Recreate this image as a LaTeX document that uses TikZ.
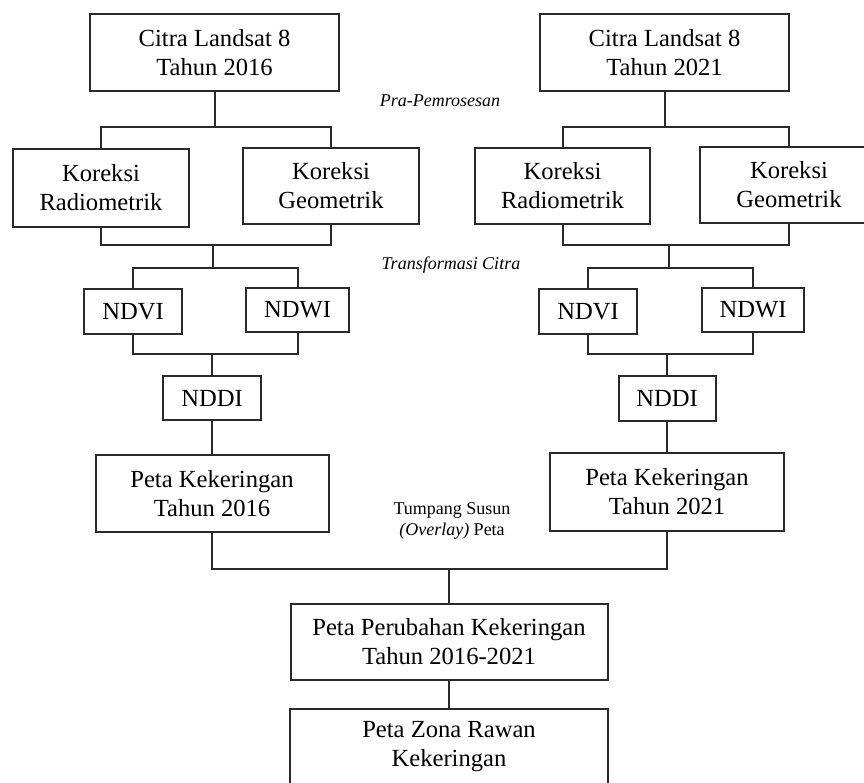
\documentclass[tikz,border=0pt]{standalone}
\usepackage{fontspec}
\setmainfont{Liberation Serif}
\definecolor{linecol}{HTML}{2A2A2A}
\begin{document}
\begin{tikzpicture}[x=1pt,y=-1pt,
  box/.style={draw=linecol,line width=2pt,fill=white,rectangle,inner sep=0pt,align=center,
    font=\fontsize{24.6}{29}\selectfont,text=black},
  conn/.style={draw=linecol,line width=2pt},
  lbl/.style={align=center,font=\fontsize{18}{21.5}\selectfont,text=black,inner sep=0pt}]
\useasboundingbox (0,0) rectangle (864,783);
\clip (0,0) rectangle (864,783);
% boxes
\node[box,minimum width=249,minimum height=77] (c1) at (214.5,52.5) {Citra Landsat 8\\Tahun 2016};
\node[box,minimum width=249,minimum height=77] (c2) at (664.5,52.5) {Citra Landsat 8\\Tahun 2021};
\node[box,minimum width=176,minimum height=78] (kr1) at (101,188) {Koreksi\\Radiometrik};
\node[box,minimum width=176,minimum height=76] (kg1) at (331,186) {Koreksi\\Geometrik};
\node[box,minimum width=175,minimum height=76] (kr2) at (562.5,186) {Koreksi\\Radiometrik};
\node[box,minimum width=178,minimum height=76] (kg2) at (789,185) {Koreksi\\Geometrik};
\node[box,minimum width=98,minimum height=45] (ndvi1) at (133,311.5) {NDVI};
\node[box,minimum width=103,minimum height=44] (ndwi1) at (297.5,310) {NDWI};
\node[box,minimum width=98,minimum height=44] (nddi1) at (212,398) {NDDI};
\node[box,minimum width=233,minimum height=77] (pk1) at (212,493.5) {Peta Kekeringan\\Tahun 2016};
\node[box,minimum width=98,minimum height=45] (ndvi2) at (588,311.5) {NDVI};
\node[box,minimum width=102,minimum height=44] (ndwi2) at (753,310) {NDWI};
\node[box,minimum width=97,minimum height=45] (nddi2) at (667,398.5) {NDDI};
\node[box,minimum width=234,minimum height=78] (pk2) at (667,492) {Peta Kekeringan\\Tahun 2021};
\node[box,minimum width=317,minimum height=76] (pp) at (449,642) {Peta Perubahan Kekeringan\\Tahun 2016-2021};
\node[box,minimum width=318,minimum height=76] (pz) at (449,747) {Peta Zona Rawan\\Kekeringan};
% labels
\node[lbl] (l1) at (440,101) {\itshape Pra-Pemrosesan};
\node[lbl] (l2) at (451,265) {\itshape Transformasi Citra};
\node[lbl] (l3) at (452,521) {Tumpang Susun\\\textit{(Overlay)} Peta};
% junction coordinates
\coordinate (t1) at (213,127);
\coordinate (b1) at (213,245);
\coordinate (t2) at (213,268);
\coordinate (b2) at (212,354);
\coordinate (t1r) at (664,127);
\coordinate (b1r) at (669,245);
\coordinate (t2r) at (669,268);
\coordinate (b2r) at (667,354);
\coordinate (ov) at (449,569);
% left branch
\draw[conn] (c1.south) -- (c1.south |- t1);
\draw[conn] (kr1.north) -- (kr1.north |- t1) -- (kg1.north |- t1) -- (kg1.north);
\draw[conn] (kr1.south) -- (kr1.south |- b1) -- (kg1.south |- b1) -- (kg1.south);
\draw[conn] (b1) -- (t2);
\draw[conn] (ndvi1.north) -- (ndvi1.north |- t2) -- (ndwi1.north |- t2) -- (ndwi1.north);
\draw[conn] (ndvi1.south) -- (ndvi1.south |- b2) -- (ndwi1.south |- b2) -- (ndwi1.south);
\draw[conn] (b2) -- (nddi1.north);
\draw[conn] (nddi1.south) -- (pk1.north);
% right branch
\draw[conn] (c2.south) -- (c2.south |- t1r);
\draw[conn] (kr2.north) -- (kr2.north |- t1r) -- (kg2.north |- t1r) -- (kg2.north);
\draw[conn] (kr2.south) -- (kr2.south |- b1r) -- (kg2.south |- b1r) -- (kg2.south);
\draw[conn] (b1r) -- (t2r);
\draw[conn] (ndvi2.north) -- (ndvi2.north |- t2r) -- (ndwi2.north |- t2r) -- (ndwi2.north);
\draw[conn] (ndvi2.south) -- (ndvi2.south |- b2r) -- (ndwi2.south |- b2r) -- (ndwi2.south);
\draw[conn] (b2r) -- (nddi2.north);
\draw[conn] (nddi2.south) -- (pk2.north);
% overlay
\draw[conn] (pk1.south) -- (pk1.south |- ov) -- (pk2.south |- ov) -- (pk2.south);
\draw[conn] (ov) -- (pp.north);
\draw[conn] (pp.south) -- (pz.north);
\end{tikzpicture}
\end{document}
